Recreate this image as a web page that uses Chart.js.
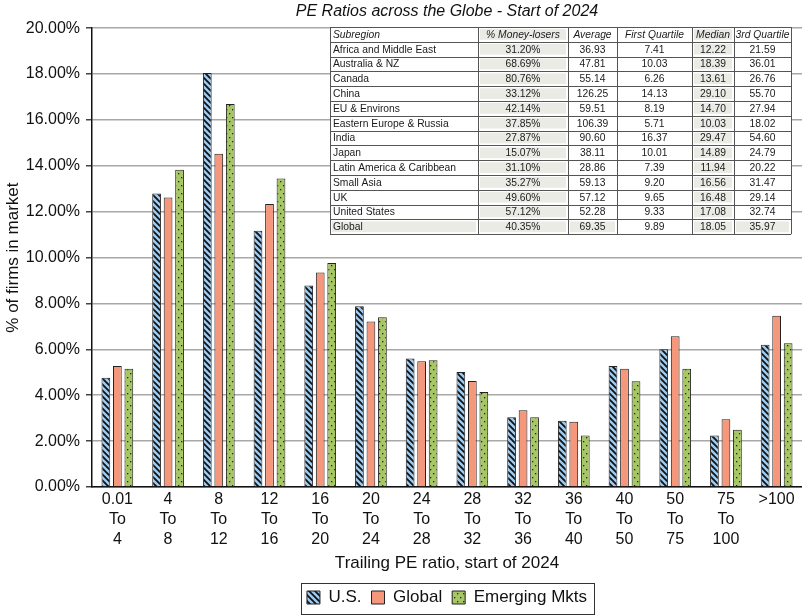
<!DOCTYPE html>
<html>
<head>
<meta charset="utf-8">
<title>PE Ratios across the Globe - Start of 2024</title>
<script src="https://cdn.jsdelivr.net/npm/chart.js@4.4.1/dist/chart.umd.min.js"></script>
<style>
  html, body { margin: 0; padding: 0; background: #fff; }
  canvas { display: block; }
</style>
</head>
<body>
<canvas id="peChart" width="802" height="616"></canvas>
<script>
// PE ratio buckets
const buckets = [
    ['0.01', 'To', '4'], ['4', 'To', '8'], ['8', 'To', '12'], ['12', 'To', '16'],
    ['16', 'To', '20'], ['20', 'To', '24'], ['24', 'To', '28'], ['28', 'To', '32'],
    ['32', 'To', '36'], ['36', 'To', '40'], ['40', 'To', '50'], ['50', 'To', '75'],
    ['75', 'To', '100'], ['>100']
];

// % of firms in each bucket
const usValues     = [4.76, 12.79, 18.05, 11.17, 8.78, 7.88, 5.60, 5.01, 3.04, 2.89, 5.28, 6.01, 2.25, 6.20];
const globalValues = [5.28, 12.62, 14.53, 12.34, 9.35, 7.21, 5.48, 4.62, 3.35, 2.84, 5.15, 6.57, 2.95, 7.46];
const emValues     = [5.15, 13.83, 16.70, 13.45, 9.76, 7.40, 5.53, 4.14, 3.04, 2.25, 4.61, 5.15, 2.50, 6.27];

// summary table
const tableHeader = ['Subregion', '% Money-losers', 'Average', 'First Quartile', 'Median', '3rd Quartile'];
const subregions = ['Africa and Middle East', 'Australia & NZ', 'Canada', 'China', 'EU & Environs',
    'Eastern Europe & Russia', 'India', 'Japan', 'Latin America & Caribbean', 'Small Asia', 'UK',
    'United States', 'Global'];
const moneyLosers = ['31.20%', '68.69%', '80.76%', '33.12%', '42.14%', '37.85%', '27.87%', '15.07%',
    '31.10%', '35.27%', '49.60%', '57.12%', '40.35%'];
const averagePE = ['36.93', '47.81', '55.14', '126.25', '59.51', '106.39', '90.60', '38.11', '28.86',
    '59.13', '57.12', '52.28', '69.35'];
const firstQuartile = ['7.41', '10.03', '6.26', '14.13', '8.19', '5.71', '16.37', '10.01', '7.39',
    '9.20', '9.65', '9.33', '9.89'];
const medianPE = ['12.22', '18.39', '13.61', '29.10', '14.70', '10.03', '29.47', '14.89', '11.94',
    '16.56', '16.48', '17.08', '18.05'];
const thirdQuartile = ['21.59', '36.01', '26.76', '55.70', '27.94', '18.02', '54.60', '24.79', '20.22',
    '31.47', '29.14', '32.74', '35.97'];

const FONT = '"Liberation Sans", Arial, Helvetica, sans-serif';

function stripes(bg) {
    const c = document.createElement('canvas');
    c.width = 6; c.height = 6;
    const g = c.getContext('2d');
    g.fillStyle = bg;
    g.fillRect(0, 0, 6, 6);
    g.strokeStyle = '#111';
    g.lineWidth = 1.8;
    g.beginPath();
    g.moveTo(-1, -1); g.lineTo(7, 7);
    g.moveTo(-1, 5); g.lineTo(1, 7);
    g.moveTo(5, -1); g.lineTo(7, 1);
    g.stroke();
    return g.createPattern(c, 'repeat');
}

function dots(bg) {
    const c = document.createElement('canvas');
    c.width = 6; c.height = 8;
    const g = c.getContext('2d');
    g.fillStyle = bg;
    g.fillRect(0, 0, 6, 8);
    g.fillStyle = '#222';
    g.fillRect(1, 1, 1.3, 1.3);
    g.fillRect(4, 5, 1.3, 1.3);
    return g.createPattern(c, 'repeat');
}

// keep title and legend centred on the plot, as in the original
const centrePlugin = {
    id: 'centre',
    afterLayout(chart) {
        const a = chart.chartArea;
        const dx = (a.left + a.right) / 2 - chart.width / 2;
        for (const box of [chart.titleBlock, chart.legend]) {
            if (box) { box.left += dx; box.right += dx; }
        }
    },
    afterDraw(chart) {
        const ctx = chart.ctx;
        const hb = chart.legend.legendHitBoxes;
        if (!hb.length) return;
        const last = hb[hb.length - 1];
        const x0 = hb[0].left - 6, x1 = last.left + last.width + 7;
        const y0 = hb[0].top - 6, y1 = hb[0].top + hb[0].height + 8;
        ctx.save();
        ctx.strokeStyle = '#333';
        ctx.lineWidth = 1;
        ctx.strokeRect(Math.round(x0) + 0.5, Math.round(y0) + 0.5, Math.round(x1 - x0), Math.round(y1 - y0));
        ctx.restore();
    }
};

const tablePlugin = {
    id: 'peTable',
    afterDatasetsDraw(chart) {
        const ctx = chart.ctx;
        const colX = [330, 478, 568, 617, 692, 734, 791];
        const top = 27, rowH = 14.8;
        const rows = [tableHeader].concat(subregions.map((s, i) =>
            [s, moneyLosers[i], averagePE[i], firstQuartile[i], medianPE[i], thirdQuartile[i]]));
        const shade = '#ebebe6';
        ctx.save();
        ctx.fillStyle = '#fff';
        ctx.fillRect(colX[0], top, colX[6] - colX[0], rowH * rows.length);
        rows.forEach((row, r) => {
            const y = top + r * rowH;
            const isGlobal = r === rows.length - 1;
            row.forEach((txt, c) => {
                const x0 = colX[c], x1 = colX[c + 1];
                if (c === 1 || c === 4 || (isGlobal && c !== 3)) {
                    ctx.fillStyle = shade;
                    ctx.fillRect(x0 + 2, y + 2, x1 - x0 - 4, rowH - 4);
                }
                ctx.fillStyle = '#1a1a1a';
                ctx.font = (r === 0 ? 'italic ' : '') + '10.3px ' + FONT;
                ctx.textBaseline = 'middle';
                if (c === 0) {
                    ctx.textAlign = 'left';
                    ctx.fillText(txt, x0 + 3, y + rowH / 2 + 0.5);
                } else {
                    ctx.textAlign = 'center';
                    ctx.fillText(txt, (x0 + x1) / 2, y + rowH / 2 + 0.5);
                }
            });
        });
        ctx.strokeStyle = '#555';
        ctx.lineWidth = 1;
        ctx.beginPath();
        for (let r = 0; r <= rows.length; r++) {
            const y = Math.round(top + r * rowH) + 0.5;
            ctx.moveTo(colX[0], y); ctx.lineTo(colX[6], y);
        }
        for (const x of colX) {
            ctx.moveTo(x + 0.5, top); ctx.lineTo(x + 0.5, top + rowH * rows.length);
        }
        ctx.stroke();
        ctx.restore();
    }
};

const ctx = document.getElementById('peChart');

new Chart(ctx, {
    type: 'bar',
    data: {
        labels: buckets,
        datasets: [{
            label: 'U.S.',
            data: usValues,
            backgroundColor: stripes('#9fcbf0'),
            borderColor: '#222',
            borderWidth: 1
        }, {
            label: 'Global',
            data: globalValues,
            backgroundColor: '#f5977b',
            borderColor: '#222',
            borderWidth: 1
        }, {
            label: 'Emerging Mkts',
            data: emValues,
            backgroundColor: dots('#a7c764'),
            borderColor: '#222',
            borderWidth: 1
        }]
    },
    options: {
        responsive: false,
        animation: false,
        layout: { padding: { left: 0, right: 0, top: 0, bottom: 0 } },
        datasets: {
            bar: { categoryPercentage: 0.68, barPercentage: 0.76 }
        },
        plugins: {
            title: {
                display: true,
                text: 'PE Ratios across the Globe - Start of 2024',
                color: '#111',
                font: { family: FONT, size: 16, style: 'italic', weight: 'normal' },
                padding: { top: 2, bottom: 7 }
            },
            legend: {
                position: 'bottom',
                labels: {
                    color: '#111',
                    font: { family: FONT, size: 17 },
                    boxWidth: 13,
                    boxHeight: 13,
                    padding: 10
                }
            },
            tooltip: { enabled: false }
        },
        scales: {
            x: {
                grid: { display: false, drawTicks: false },
                border: { color: '#111', width: 1.5 },
                ticks: {
                    color: '#111',
                    font: { family: FONT, size: 16, lineHeight: 1.25 },
                    padding: 3,
                    maxRotation: 0,
                    autoSkip: false
                },
                title: {
                    display: true,
                    text: 'Trailing PE ratio, start of 2024',
                    color: '#111',
                    font: { family: FONT, size: 17 },
                    padding: { top: 4, bottom: 5 }
                },
                afterFit(scale) { scale.height = 92; }
            },
            y: {
                min: 0,
                max: 20,
                grid: { color: '#a8a8a8', lineWidth: 1.5, tickLength: 6, tickColor: '#444' },
                border: { color: '#111', width: 1.5 },
                ticks: {
                    stepSize: 2,
                    color: '#111',
                    font: { family: FONT, size: 16 },
                    padding: 6,
                    callback: v => v.toFixed(2) + '%'
                },
                title: {
                    display: true,
                    text: '% of firms in market',
                    color: '#111',
                    font: { family: FONT, size: 17 },
                    padding: { top: 3, bottom: 0 }
                },
                afterFit(scale) { scale.width = 92; }
            }
        }
    },
    plugins: [centrePlugin, tablePlugin]
});
</script>
</body>
</html>
